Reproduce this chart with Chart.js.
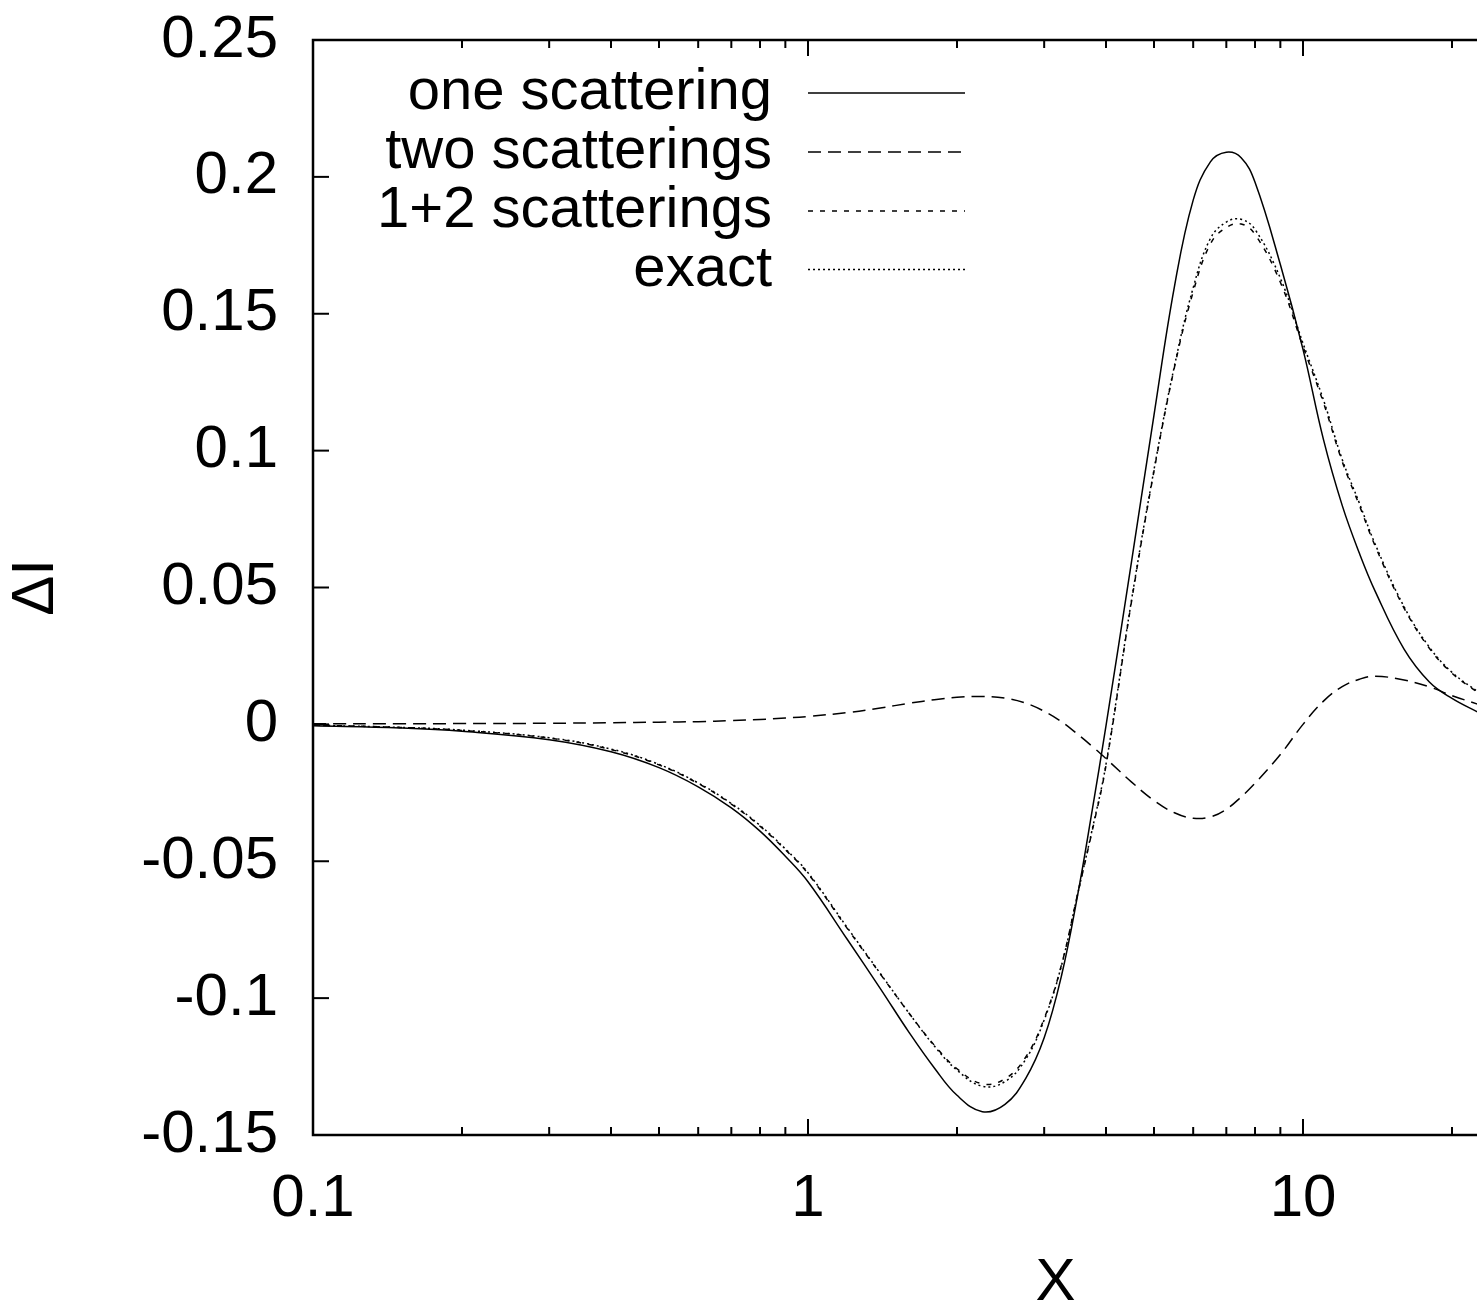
<!DOCTYPE html>
<html>
<head>
<meta charset="utf-8">
<script src="https://cdn.jsdelivr.net/npm/chart.js@4.4.1/dist/chart.umd.min.js"></script>
<style>
  html, body { margin: 0; padding: 0; overflow: hidden; background: #fff; }
  canvas { display: block; }
</style>
</head>
<body>
<canvas id="plot" width="1860" height="1313"></canvas>
<script>
// values
const xValues = [0.1, 0.15, 0.2, 0.3, 0.4, 0.5, 0.6, 0.7, 0.8, 0.9,
  1.0, 1.2, 1.4, 1.6, 1.8, 2.0, 2.25, 2.5, 2.75, 3.0, 3.25, 3.5, 3.75, 4.0,
  4.5, 5.0, 5.5, 6.0, 6.5, 7.0, 7.5, 8.0, 9.0, 10, 11, 12, 13, 14, 16, 18, 20, 22.6];

const oneScattering = [-0.0005, -0.0013, -0.0025, -0.0056, -0.01, -0.0158, -0.0228, -0.0305, -0.039, -0.0482,
  -0.0575, -0.0785, -0.0965, -0.1125, -0.1255, -0.1355, -0.1415, -0.1388, -0.1295, -0.1145, -0.092, -0.063, -0.0315, -0.0005,
  0.059, 0.113, 0.16, 0.1915, 0.2055, 0.209, 0.207, 0.198, 0.168, 0.137, 0.104, 0.08, 0.0625, 0.0485, 0.0275, 0.0155, 0.0095, 0.0044];

const twoScatterings = [0.0002, 0.0002, 0.0003, 0.0004, 0.0006, 0.0008, 0.001, 0.0014, 0.0018, 0.0023,
  0.0029, 0.0043, 0.006, 0.0077, 0.009, 0.0099, 0.0102, 0.0096, 0.0078, 0.0048, 0.001, -0.0035, -0.008, -0.0125,
  -0.021, -0.0278, -0.0323, -0.0343, -0.0338, -0.031, -0.0265, -0.0215, -0.011, 0.0, 0.0085, 0.0138, 0.0165, 0.0176, 0.0162, 0.0137, 0.0105, 0.0073];

const onePlusTwo = [-0.0003, -0.0011, -0.0022, -0.005, -0.0092, -0.0148, -0.0216, -0.0291, -0.0372, -0.0458,
  -0.0545, -0.0745, -0.0912, -0.1055, -0.1172, -0.1258, -0.1313, -0.1295, -0.1217, -0.1075, -0.088, -0.0625, -0.039, -0.015,
  0.0445, 0.0925, 0.1305, 0.158, 0.1755, 0.1815, 0.1828, 0.179, 0.1615, 0.138, 0.1175, 0.096, 0.08, 0.065, 0.0425, 0.0278, 0.0187, 0.0115];

const exact = [-0.0003, -0.0011, -0.0021, -0.0049, -0.009, -0.0146, -0.0214, -0.0289, -0.0369, -0.0455,
  -0.0542, -0.0742, -0.091, -0.1055, -0.1175, -0.1263, -0.1322, -0.1305, -0.1225, -0.108, -0.0882, -0.0625, -0.0385, -0.0145,
  0.045, 0.093, 0.131, 0.1595, 0.1775, 0.1835, 0.1845, 0.1808, 0.163, 0.1392, 0.1185, 0.0968, 0.0808, 0.0657, 0.043, 0.0282, 0.019, 0.0118];

const seriesNames = ['one scattering', 'two scatterings', '1+2 scatterings', 'exact'];
const xTicks = [0.1, 1, 10, 100];
const xTickLabels = ['0.1', '1', '10', '100'];
const yTicks = [-0.15, -0.1, -0.05, 0, 0.05, 0.1, 0.15, 0.2, 0.25];
const yTickLabels = ['-0.15', '-0.1', '-0.05', '0', '0.05', '0.1', '0.15', '0.2', '0.25'];

const FONT = '"Liberation Sans", Arial, Helvetica, sans-serif';
const FSIZE = 60;
const dashes = [[], [13, 7], [5, 7], [2, 3]];

const toPoints = ys => xValues.map((x, i) => ({ x: x, y: ys[i] }));

// inward gnuplot-style ticks, frame and key
const framePlugin = {
  id: 'framePlugin',
  afterDraw(chart) {
    const { ctx, chartArea: a, scales: { x, y } } = chart;
    ctx.save();
    ctx.strokeStyle = '#000';
    ctx.lineWidth = 2;
    const seg = (x1, y1, x2, y2) => { ctx.beginPath(); ctx.moveTo(x1, y1); ctx.lineTo(x2, y2); ctx.stroke(); };
    for (let d = -1; d < 2; d++) {
      for (let m = 1; m < 10; m++) {
        const px = x.getPixelForValue(m * Math.pow(10, d));
        const len = m === 1 ? 16 : 8;
        seg(px, a.bottom, px, a.bottom - len);
        seg(px, a.top, px, a.top + len);
      }
    }
    yTicks.forEach(v => {
      const py = y.getPixelForValue(v);
      seg(a.left, py, a.left + 16, py);
      seg(a.right, py, a.right - 16, py);
    });
    ctx.lineWidth = 2.5;
    ctx.strokeRect(a.left, a.top, a.right - a.left, a.bottom - a.top);

    // key
    const rows = [93, 152, 211, 269.5];
    ctx.font = '58px ' + FONT;
    ctx.fillStyle = '#000';
    ctx.textAlign = 'right';
    ctx.textBaseline = 'middle';
    ctx.lineWidth = 1.5;
    seriesNames.forEach((name, i) => {
      ctx.fillText(name, 772, rows[i]);
      ctx.setLineDash(dashes[i]);
      seg(808, rows[i], 965, rows[i]);
    });
    ctx.restore();
  }
};

const mkSet = (label, ys, i) => ({
  label: label,
  data: toPoints(ys),
  borderColor: '#000',
  borderWidth: 1.5,
  borderDash: dashes[i],
  pointRadius: 0,
  fill: false,
  tension: 0.4
});

new Chart(document.getElementById('plot').getContext('2d'), {
  type: 'line',
  data: {
    datasets: [
      mkSet(seriesNames[0], oneScattering, 0),
      mkSet(seriesNames[1], twoScatterings, 1),
      mkSet(seriesNames[2], onePlusTwo, 2),
      mkSet(seriesNames[3], exact, 3)
    ]
  },
  options: {
    responsive: false,
    animation: false,
    layout: { padding: { top: 40, right: 62, left: 0, bottom: 0 } },
    plugins: { legend: { display: false }, tooltip: { enabled: false } },
    scales: {
      x: {
        type: 'logarithmic',
        min: 0.1,
        max: 100,
        afterBuildTicks: s => { s.ticks = xTicks.map(v => ({ value: v })); },
        afterFit: s => { s.height = 178; s.paddingLeft = 0; s.paddingRight = 0; },
        grid: { display: false },
        border: { display: false },
        ticks: {
          color: '#000',
          font: { family: FONT, size: FSIZE },
          padding: 20,
          maxRotation: 0,
          autoSkip: false,
          callback: (v, i) => xTickLabels[i]
        },
        title: { display: true, text: 'X', color: '#000', padding: 0,
          font: { family: FONT, size: FSIZE, lineHeight: 1 } }
      },
      y: {
        type: 'linear',
        min: -0.15,
        max: 0.25,
        afterBuildTicks: s => { s.ticks = yTicks.map(v => ({ value: v })); },
        afterFit: s => { s.width = 313; s.paddingTop = 0; s.paddingBottom = 0; },
        grid: { display: false },
        border: { display: false },
        ticks: {
          color: '#000',
          font: { family: FONT, size: FSIZE },
          padding: 27,
          autoSkip: false,
          callback: (v, i) => yTickLabels[i]
        },
        title: { display: true, text: 'ΔI', color: '#000', padding: { top: 6 },
          font: { family: FONT, size: FSIZE, lineHeight: 1 } }
      }
    }
  },
  plugins: [framePlugin]
});
</script>
</body>
</html>
